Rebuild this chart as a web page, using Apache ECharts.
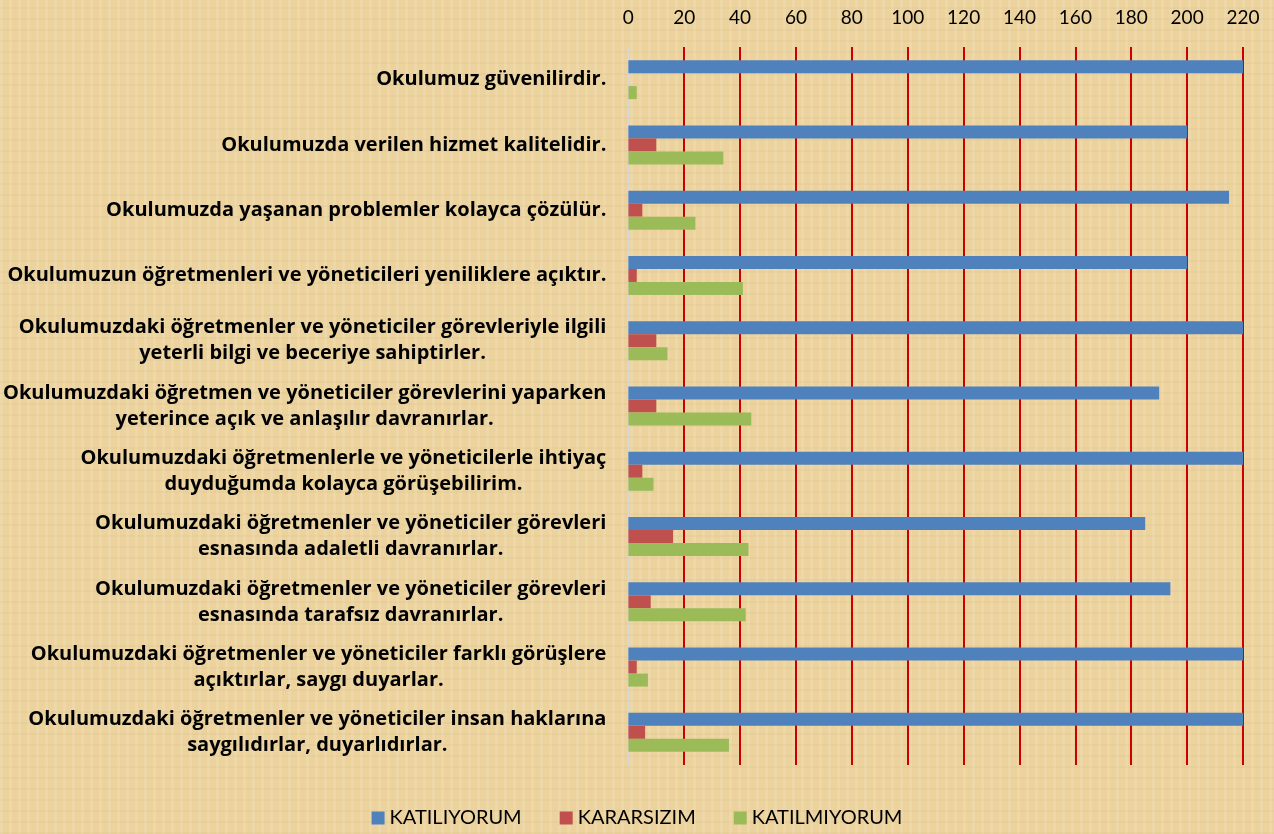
<!DOCTYPE html>
<html>
<head>
<meta charset="utf-8">
<script src="https://cdn.jsdelivr.net/npm/echarts@6/dist/echarts.min.js"></script>
<style>
html, body {
  margin: 0;
  padding: 0;
  width: 1274px;
  height: 834px;
  overflow: hidden;
  /* kağıt dokusu yerine basit bir zemin */
  background-color: #ecd39e;
  background-image:
    repeating-linear-gradient(90deg, rgba(255,255,255,0.10) 0px, rgba(255,255,255,0.10) 3px, rgba(0,0,0,0) 3px, rgba(0,0,0,0) 9px),
    repeating-linear-gradient(0deg, rgba(160,120,40,0.06) 0px, rgba(160,120,40,0.06) 2px, rgba(0,0,0,0) 2px, rgba(0,0,0,0) 11px);
}
#chart {
  width: 1274px;
  height: 834px;
}
</style>
</head>
<body>
<div id="chart"></div>
<script>
// sorular (yukarıdan aşağıya)
var sorular = [
  'Okulumuz güvenilirdir.',
  'Okulumuzda verilen hizmet kalitelidir.',
  'Okulumuzda yaşanan problemler kolayca çözülür.',
  'Okulumuzun öğretmenleri ve yöneticileri yeniliklere açıktır.',
  'Okulumuzdaki öğretmenler ve yöneticiler görevleriyle ilgili\nyeterli bilgi ve beceriye sahiptirler.',
  'Okulumuzdaki öğretmen ve yöneticiler görevlerini yaparken\nyeterince açık ve anlaşılır davranırlar.',
  'Okulumuzdaki öğretmenlerle ve yöneticilerle ihtiyaç\nduyduğumda kolayca görüşebilirim.',
  'Okulumuzdaki öğretmenler ve yöneticiler görevleri\nesnasında adaletli davranırlar.',
  'Okulumuzdaki öğretmenler ve yöneticiler görevleri\nesnasında tarafsız davranırlar.',
  'Okulumuzdaki öğretmenler ve yöneticiler farklı görüşlere\naçıktırlar, saygı duyarlar.',
  'Okulumuzdaki öğretmenler ve yöneticiler insan haklarına\nsaygılıdırlar, duyarlıdırlar.'
];

var katiliyorum = [225, 200, 215, 200, 220, 190, 225, 185, 194, 225, 225];
var kararsizim = [0, 10, 5, 3, 10, 10, 5, 16, 8, 3, 6];
var katilmiyorum = [3, 34, 24, 41, 14, 44, 9, 43, 42, 7, 36];

var eksenMax = 220;
var eksenAdim = 20;

var myChart = echarts.init(document.getElementById('chart'));

myChart.setOption({
  backgroundColor: 'transparent',
  animation: false,
  textStyle: { fontFamily: 'Lato' },
  grid: {
    left: 628,
    right: 31,
    top: 47,
    bottom: 69
  },
  legend: {
    bottom: 1,
    left: 'center',
    icon: 'rect',
    itemWidth: 13,
    itemHeight: 13,
    itemGap: 38,
    textStyle: { fontSize: 20, color: '#000', fontFamily: 'Lato' },
    data: ['KATILIYORUM', 'KARARSIZIM', 'KATILMIYORUM']
  },
  xAxis: {
    type: 'value',
    position: 'top',
    min: 0,
    max: eksenMax,
    interval: eksenAdim,
    axisLine: { show: false },
    axisTick: { show: false },
    axisLabel: {
      margin: 20,
      fontSize: 19,
      color: '#000',
      fontFamily: 'Lato'
    },
    splitLine: {
      show: true,
      showMinLine: false,
      lineStyle: { color: '#cc0000', width: 2 }
    }
  },
  yAxis: {
    type: 'category',
    inverse: true,
    data: sorular,
    axisLine: { show: true, lineStyle: { color: '#d9d9d9', width: 1 } },
    axisTick: { show: false },
    axisLabel: {
      margin: 22,
      interval: 0,
      align: 'right',
      // satırları blok içinde ortala
      formatter: function (v) {
        return v.split('\n').map(function (s) { return '{c|' + s + '}'; }).join('\n');
      },
      rich: {
        c: {
          align: 'center',
          fontSize: 20,
          fontWeight: 'bold',
          fontFamily: 'Open Sans',
          color: '#000',
          lineHeight: 26
        }
      }
    }
  },
  series: [
    {
      name: 'KATILIYORUM',
      type: 'bar',
      data: katiliyorum,
      barWidth: 13,
      barGap: 0,
      itemStyle: { color: '#4f81bd' }
    },
    {
      name: 'KARARSIZIM',
      type: 'bar',
      data: kararsizim,
      barWidth: 13,
      barGap: 0,
      itemStyle: { color: '#c0504d' }
    },
    {
      name: 'KATILMIYORUM',
      type: 'bar',
      data: katilmiyorum,
      barWidth: 13,
      barGap: 0,
      itemStyle: { color: '#9bbb59' }
    }
  ]
});
</script>
</body>
</html>
